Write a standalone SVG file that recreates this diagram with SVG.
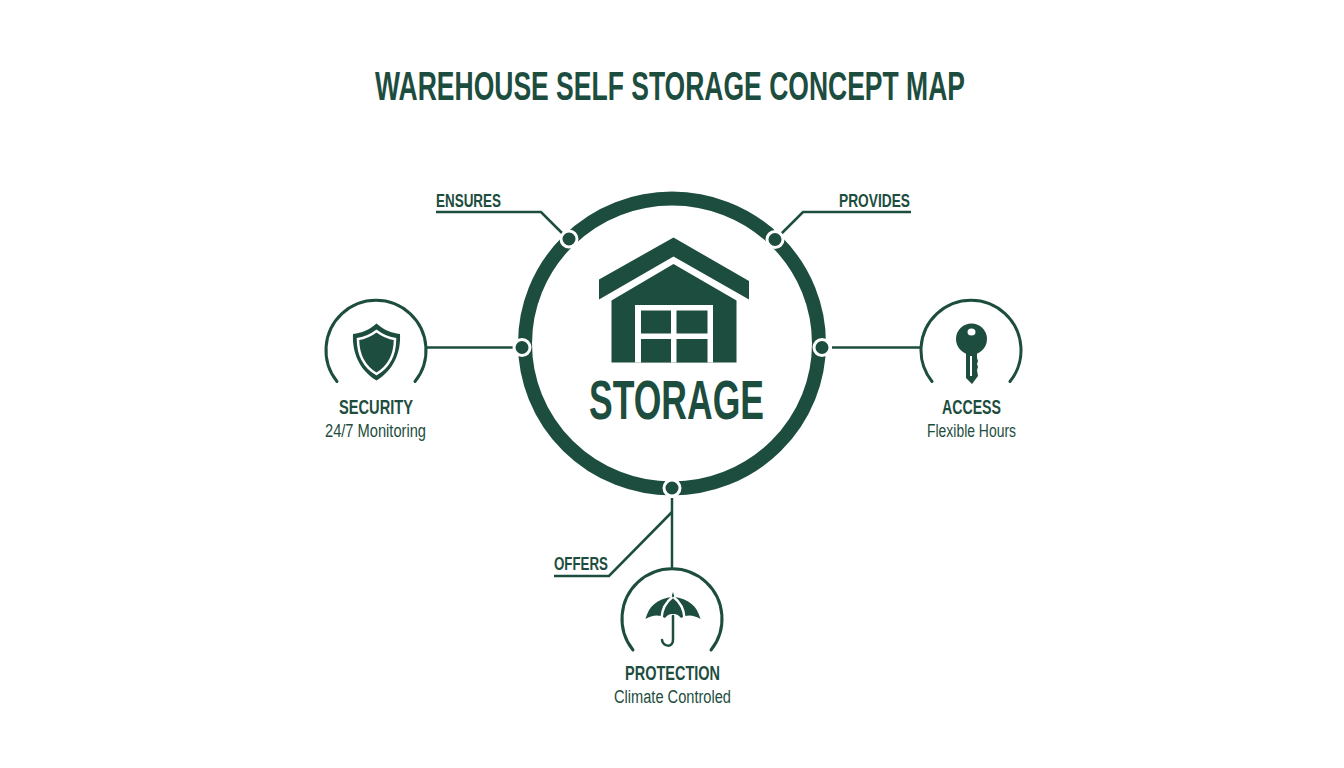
<svg xmlns="http://www.w3.org/2000/svg" width="1344" height="768" viewBox="0 0 1344 768">
<style>
text{font-family:"Liberation Sans",Arial,sans-serif;fill:#1d4d3e;text-anchor:start}
.h{font-weight:700;font-size:20px}
.s{font-size:18px}
.l{font-weight:700;font-size:19px}
.c{fill:none;stroke:#1d4d3e;stroke-width:2.5}
.a{fill:none;stroke:#1d4d3e;stroke-width:3;stroke-linecap:round}
.d{fill:#1d4d3e;stroke:#fff;stroke-width:3}
.f{fill:#1d4d3e}
.w{fill:#fff}
</style>
<rect width="1344" height="768" fill="#fff"/>
<text id="title" x="375" y="100" font-size="40" font-weight="700" textLength="590" lengthAdjust="spacingAndGlyphs">WAREHOUSE SELF STORAGE CONCEPT MAP</text>
<g id="connectors">
<path class="c" d="M436 212H541L564 235"/>
<path class="c" d="M911 212H803L781 234"/>
<path class="c" d="M427 347.500H513"/>
<path class="c" d="M832 347.500H921"/>
<path class="c" d="M672 498V569"/>
<path class="c" d="M554 576H609L672 512"/>
</g>
<g id="storage">
<ellipse cx="672" cy="343.500" rx="147" ry="145" fill="none" stroke="#1d4d3e" stroke-width="14"/>
<path class="f" d="M673.500 237.500L749 281V299.500L673.500 256.500L599 299.500V279.500Z"/>
<path class="f" d="M673.500 264L736.500 300.500V362.500H611.500V300.500Z"/>
<rect class="w" x="635" y="305" width="78" height="57.500"/>
<g class="f">
<rect x="641" y="310.500" width="30" height="23"/>
<rect x="676.500" y="310.500" width="31" height="23"/>
<rect x="641" y="339" width="30" height="23.500"/>
<rect x="676.500" y="339" width="31" height="23.500"/>
</g>
<text x="589" y="419" font-size="55" font-weight="700" textLength="175" lengthAdjust="spacingAndGlyphs">STORAGE</text>
<circle class="d" cx="569" cy="239" r="8"/>
<circle class="d" cx="775" cy="239.500" r="8"/>
<circle class="d" cx="522" cy="347.500" r="8"/>
<circle class="d" cx="822" cy="347.500" r="8"/>
<circle class="d" cx="672" cy="488" r="8"/>
</g>
<g id="ensures"><text class="l" x="436" y="206.500" textLength="65" lengthAdjust="spacingAndGlyphs">ENSURES</text></g>
<g id="provides"><text class="l" x="839" y="206.500" textLength="71" lengthAdjust="spacingAndGlyphs">PROVIDES</text></g>
<g id="offers"><text class="l" x="554" y="569.500" textLength="54" lengthAdjust="spacingAndGlyphs">OFFERS</text></g>
<g id="security">
<path class="a" d="M337 381.500A50 50 0 1 1 415 381.500"/>
<path class="f" d="M376.500 323.500C384 330 391 333 400 334C401 352 394 370 376.500 380.500C359 370 352 352 353 334C362 333 369 330 376.500 323.500Z"/>
<path d="M376.500 331C383 336 388 338 395 339C395 353 390 366 376.500 374C363 366 358 353 358 339C365 338 370 336 376.500 331Z" fill="none" stroke="#fff" stroke-width="2.500"/>
<text class="h" x="339" y="414" textLength="74" lengthAdjust="spacingAndGlyphs">SECURITY</text>
<text class="s" x="325" y="436.500" textLength="101" lengthAdjust="spacingAndGlyphs">24/7 Monitoring</text>
</g>
<g id="access">
<path class="a" d="M932 381.500A50 50 0 1 1 1010 381.500"/>
<circle class="f" cx="971.500" cy="339" r="15.500"/>
<path class="f" d="M966 348H977V358L978 361L977 364L978 367L977 370L978 376L972 384L966 378Z"/>
<ellipse class="w" cx="971.500" cy="332" rx="4" ry="3.500"/>
<rect class="w" x="970" y="356" width="2" height="20"/>
<text class="h" x="942" y="414" textLength="59" lengthAdjust="spacingAndGlyphs">ACCESS</text>
<text class="s" x="927" y="436.500" textLength="89" lengthAdjust="spacingAndGlyphs">Flexible Hours</text>
</g>
<g id="protection">
<path class="a" d="M633 650A50 50 0 1 1 711 650"/>
<path class="f" d="M673 592L674.500 597C689 599 697 606 700.500 619C694 615 687 614 681 618C678 614 675 614 673 614C671 614 668 614 665 618C659 614 652 615 645.500 619C649 606 657 599 671.500 597Z"/>
<path d="M672.500 597C666 602 662 610 661.500 618M673.500 597C680 602 684 610 684.500 618" fill="none" stroke="#fff" stroke-width="2.500"/>
<path d="M673 616V640C673 648 663 647 662 640" fill="none" stroke="#1d4d3e" stroke-width="2.500" stroke-linecap="round"/>
<text class="h" x="625" y="680" textLength="95" lengthAdjust="spacingAndGlyphs">PROTECTION</text>
<text class="s" x="614" y="703" textLength="117" lengthAdjust="spacingAndGlyphs">Climate Controled</text>
</g>
</svg>
